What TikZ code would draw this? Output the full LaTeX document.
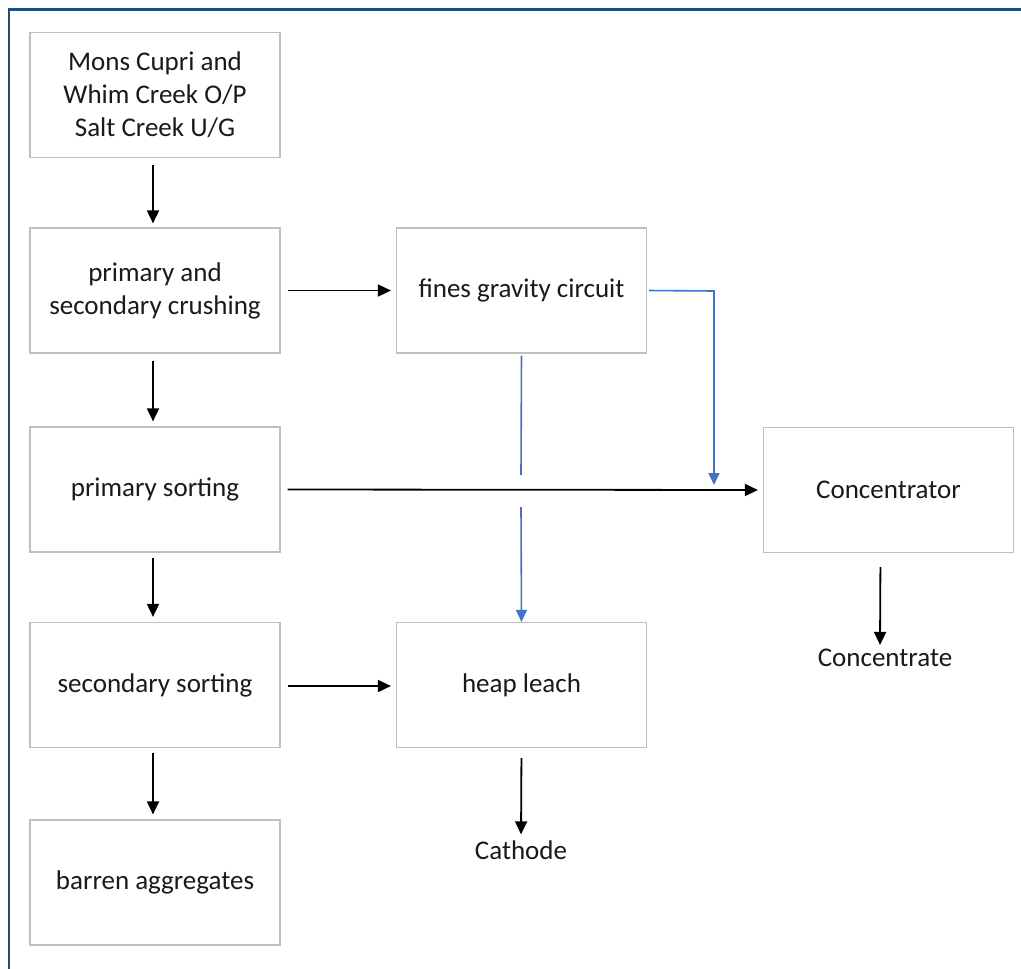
\documentclass[tikz,border=0pt]{standalone}
\usepackage{fontspec}
\setmainfont{Carlito}
\usetikzlibrary{arrows.meta,calc}
\definecolor{framec}{HTML}{1F4E79}
\definecolor{boxc}{HTML}{BFBFBF}
\definecolor{bluec}{HTML}{4472C4}
\definecolor{txtc}{HTML}{1A1A1A}
\begin{document}
\begin{tikzpicture}[x=1pt,y=-1pt,
  box/.style={draw=boxc,line width=1.2pt,minimum width=250pt,minimum height=125pt,align=center,
    text=txtc,font=\fontsize{27}{33}\selectfont,inner sep=0pt},
  lbl/.style={text=txtc,font=\fontsize{27}{33}\selectfont,inner sep=2pt},
  arr/.style={line width=1.8pt,-{Triangle[length=13pt,width=12pt]}},
  barr/.style={line width=1.6pt,draw=bluec,-{Triangle[length=12pt,width=11pt]},color=bluec},
  bline/.style={line width=1.6pt,draw=bluec}]
\useasboundingbox (0,0) rectangle (1021,969);
\fill[white] (0,0) rectangle (1021,969);
\draw[framec,line width=2.5pt] (9,969) -- (9,9.5) -- (1021,9.5);

\node[box] (mons) at (155,95) {Mons Cupri and\\Whim Creek O/P\\Salt Creek U/G};
\node[box] (crush) at (155,290.5) {primary and\\secondary crushing};
\node[box] (fines) at (521.5,290.5) {fines gravity circuit};
\node[box] (psort) at (155,489.5) {primary sorting};
\node[box] (conc) at (888.5,490) {Concentrator};
\node[box] (ssort) at (155,685) {secondary sorting};
\node[box] (heap) at (521.5,685) {heap leach};
\node[box] (barren) at (155,882.5) {barren aggregates};
\node[lbl] (concout) at (885,658) {Concentrate};
\node[lbl] (cath) at (521,850) {Cathode};

% vertical black arrows on the left column
\draw[arr,shorten <=7pt,shorten >=4pt] ($(mons.south)+(-2,0)$) -- ($(crush.north)+(-2,0)$);
\draw[arr,shorten <=7pt,shorten >=5pt] ($(crush.south)+(-2,0)$) -- ($(psort.north)+(-2,0)$);
\draw[arr,shorten <=5pt,shorten >=5pt] ($(psort.south)+(-2,0)$) -- ($(ssort.north)+(-2,0)$);
\draw[arr,shorten <=5pt,shorten >=5pt] ($(ssort.south)+(-2,0)$) -- ($(barren.north)+(-2,0)$);

% horizontal black arrows
\draw[arr,shorten <=7pt,shorten >=5pt] (crush.east) -- (fines.west);
\draw[arr,shorten <=7pt,shorten >=5pt] ($(ssort.east)+(0,1)$) -- ($(heap.west)+(0,1)$);
\draw[arr,shorten <=7pt,shorten >=5pt] (psort.east) -- (conc.west);

% outputs
\draw[arr,shorten <=14pt,shorten >=2pt] ($(conc.south)+(-8,0)$) -- ($(concout.north)+(-5,0)$);
\draw[arr,shorten <=10pt,shorten >=4pt] (heap.south) -- (cath.north);

% blue connectors
\coordinate (gapA) at (521,475);
\coordinate (gapB) at (521,507);
\coordinate (cturn) at (714,291);
\coordinate (cend) at (714,485);
\draw[bline,shorten <=2pt] (fines.south) -- (gapA);
\draw[barr] (gapB) -- (heap.north);
\draw[barr,shorten <=2pt] (fines.east) -- (cturn) -- (cend);
\end{tikzpicture}
\end{document}
